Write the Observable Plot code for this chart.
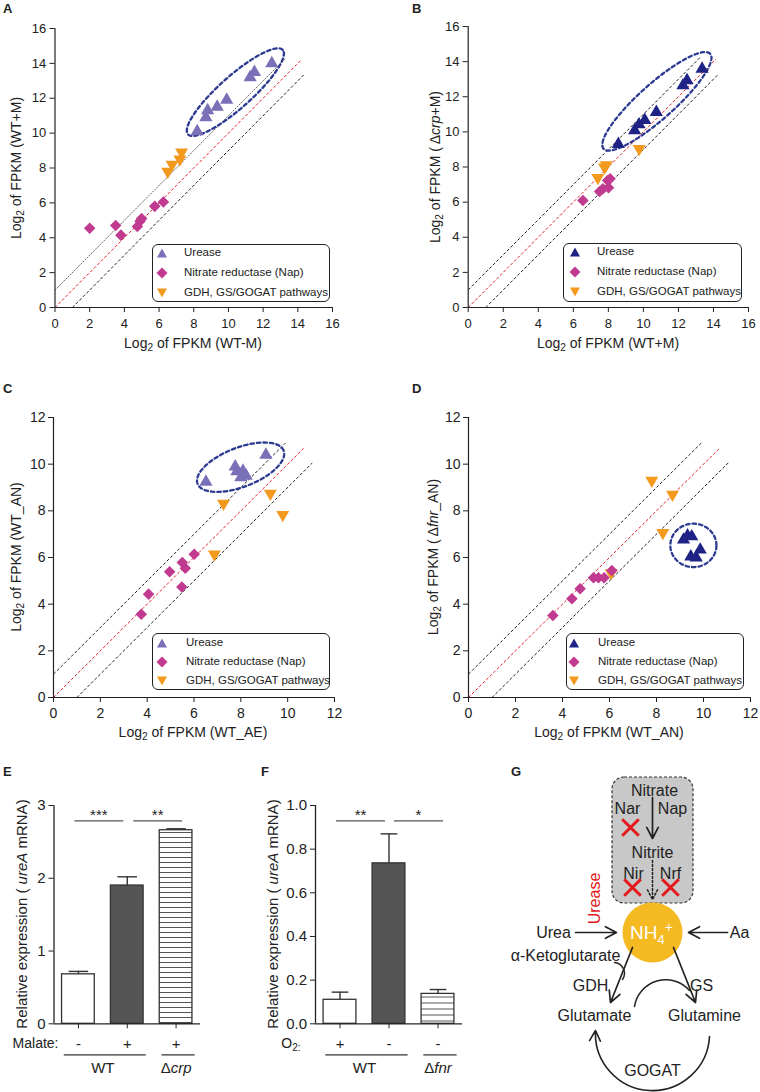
<!DOCTYPE html>
<html><head><meta charset="utf-8">
<script src="https://cdn.jsdelivr.net/npm/d3@7"></script>
<script src="https://cdn.jsdelivr.net/npm/@observablehq/plot@0.6"></script>
<style>
body{margin:0;background:#fff;}
#fig{position:relative;width:760px;height:1092px;overflow:hidden;font-family:"Liberation Sans",Arial,Helvetica,sans-serif;color:#222;background:#fff;}
.lbl{position:absolute;font-weight:bold;font-size:13px;line-height:13px;}
.t{position:absolute;white-space:nowrap;transform:translate(-50%,-50%);font-size:14px;line-height:1;}
.ty{transform:translate(-50%,-50%) rotate(-90deg);}
sub{font-size:0.72em;vertical-align:-0.28em;line-height:0;}
.leg{position:absolute;border:1px solid #222;border-radius:6px;background:#fff;font-size:11.5px;box-sizing:border-box;}
.leg .sym{position:absolute;width:12px;height:12px;}
.leg .txt{position:absolute;white-space:nowrap;transform:translateY(-50%);line-height:1;}
</style>
</head>
<body>
<svg width="0" height="0" style="position:absolute">
 <defs>
  <pattern id="stripesE" patternUnits="userSpaceOnUse" width="8" height="5"><rect width="8" height="5" fill="#fff"/><line x1="0" x2="8" y1="2.5" y2="2.5" stroke="#555" stroke-width="1"/></pattern>
  <pattern id="stripesF" patternUnits="userSpaceOnUse" width="8" height="6"><rect width="8" height="6" fill="#fff"/><line x1="0" x2="8" y1="3" y2="3" stroke="#555" stroke-width="1"/></pattern>
 </defs>
</svg>
<div id="fig"></div>
<script>
// ================= DATA =================
const abTicks = [0, 2, 4, 6, 8, 10, 12, 14, 16];
const cdTicks = [0, 2, 4, 6, 8, 10, 12];

// Panel A  [x, y]
const aUrease = [[8.2,10.1],[8.7,10.9],[8.8,11.3],[9.35,11.5],[9.9,11.9],[11.25,13.2],[11.5,13.5],[12.5,14.0]];
const aNap    = [[2.0,4.55],[3.5,4.7],[3.8,4.15],[4.75,4.65],[4.9,4.95],[5.0,5.1],[5.75,5.8],[6.25,6.05]];
const aGdh    = [[6.5,7.8],[6.75,8.2],[7.2,8.5],[7.3,8.9]];
// Panel B
const bUrease = [[8.57,9.3],[9.5,10.08],[9.75,10.42],[10.08,10.67],[10.74,11.12],[12.26,12.64],[12.49,12.93],[13.35,13.59]];
const bNap    = [[6.55,6.09],[7.5,6.6],[7.69,6.76],[8.01,6.82],[7.96,7.23],[8.1,7.33]];
const bGdh    = [[7.4,7.39],[7.78,7.99],[7.88,8.12],[9.76,9.04]];
// Panel C
const cUrease = [[6.51,9.24],[7.76,9.89],[7.83,9.69],[8.09,9.71],[8.0,9.43],[8.23,9.5],[9.07,10.4]];
const cNap    = [[3.75,3.57],[4.06,4.43],[4.96,5.39],[5.5,5.79],[5.63,5.54],[5.48,4.74],[6.01,6.14]];
const cGdh    = [[7.26,8.31],[9.26,8.74],[9.79,7.83],[6.87,6.14]];
// Panel D
const dUrease = [[9.15,6.76],[9.32,6.94],[9.5,6.9],[9.46,6.04],[9.69,5.99],[9.86,6.33]];
const dNap    = [[3.59,3.51],[4.4,4.23],[4.75,4.66],[5.32,5.13],[5.53,5.13],[5.77,5.13],[6.1,5.44]];
const dGdh    = [[7.8,9.3],[8.68,8.7],[8.27,7.06],[6.07,5.34]];

// reference lines: [offset (y = x + offset), x start, x end]
const aRefLines = [[1,0,13.3],[0,0,14.2],[-1,1,14.35]];
const bRefLines = [[1,0,13.3],[0,0,14.15],[-1,1,14.3]];
const cRefLines = [[1,0,9.9],[0,0,10.7],[-1,1,11.05]];
const dRefLines = [[1,0,9.95],[0,0,10.65],[-1,1,11.1]];

// highlight ellipses: [cx, cy, rx, ry, angle°] (data units)
const aEllipse = [10.4, 12.35, 3.65, 0.92, 41.5];
const bEllipse = [10.77, 11.74, 4.07, 1.0, 41.6];
const cEllipse = [7.99, 9.87, 1.97, 0.84, 21.2];
const dEllipse = [9.57, 6.52, 0.98, 0.93, 0];

const legendItems = ["Urease", "Nitrate reductase (Nap)", "GDH, GS/GOGAT pathways"];

// Panel E
const eSigns  = ["-", "+", "+"];
const eValues = [0.68, 1.90, 2.66];
const eErrors = [0.04, 0.12, 0.02];
const eGroups = [["WT", 0, 1], ["Δcrp", 2, 2]];
const eSig    = [["***", 0, 1], ["**", 1, 2]];
const eSigY   = 2.79;
const eTicks  = [0, 1, 2, 3];
// Panel F
const fSigns  = ["+", "-", "-"];
const fValues = [0.11, 0.735, 0.137];
const fErrors = [0.035, 0.135, 0.02];
const fGroups = [["WT", 0, 1], ["Δfnr", 2, 2]];
const fSig    = [["**", 0, 1], ["*", 1, 2]];
const fSigY   = 0.93;
const fTicks  = [0, 0.2, 0.4, 0.6, 0.8, 1.0];

// Panel G (diagram, page coordinates)
const gBox = [{x1: 612, x2: 693, y1: 777, y2: 903}];
const gLabels = [
  {t: "Nitrate", x: 654, y: 790},
  {t: "Nar", x: 627, y: 808}, {t: "Nap", x: 672, y: 808},
  {t: "Nitrite", x: 652, y: 852},
  {t: "Nir", x: 633, y: 873}, {t: "Nrf", x: 670, y: 873},
  {t: "Urea", x: 553, y: 932}, {t: "Aa", x: 739, y: 932},
  {t: "α-Ketoglutarate", x: 565, y: 955},
  {t: "GDH", x: 590, y: 985}, {t: "GS", x: 701, y: 985},
  {t: "Glutamate", x: 594, y: 1015}, {t: "Glutamine", x: 704, y: 1015},
  {t: "GOGAT", x: 652, y: 1070}
];
const gArrows = [[575,932,616,932],[727,932,688,932],[652,797,652,838],[632,947,610,1002],[673,947,695,1002]];
const gDotted = [[652,860,652,899]];
const gCrosses = [{x: 630, y: 827}, {x: 632, y: 887}, {x: 670, y: 887}];
const gNH4 = [{x: 652, y: 932}];

// ================= STYLE =================
const FONT = '"Liberation Sans", Arial, Helvetica, sans-serif';
const C_UREASE_LIGHT = "#7a70b8", C_UREASE_DARK = "#1f2385";
const C_NAP = "#c03a8f", C_GDH = "#f39a1e", C_ELL = "#2c3a92";
const fig = document.getElementById("fig");

function place(svg, left, top) {
  svg.style.position = "absolute"; svg.style.left = left + "px"; svg.style.top = top + "px";
  fig.appendChild(svg);
}
function rich(svg, map) {
  svg.querySelectorAll("text").forEach(t => {
    const spec = map[t.textContent];
    if (!spec) return;
    while (t.firstChild) t.removeChild(t.firstChild);
    for (const s of spec) {
      const ts = document.createElementNS("http://www.w3.org/2000/svg", "tspan");
      ts.textContent = s.t;
      if (s.italic) ts.setAttribute("font-style", "italic");
      if (s.dy) ts.setAttribute("dy", s.dy);
      if (s.size) ts.setAttribute("font-size", s.size);
      t.appendChild(ts);
    }
  });
}
function ellipsePoints([cx, cy, rx, ry, deg]) {
  const th = deg * Math.PI / 180, pts = [];
  for (let k = 0; k < 144; k++) {
    const t = 2 * Math.PI * k / 144;
    pts.push({x: cx + rx * Math.cos(th) * Math.cos(t) - ry * Math.sin(th) * Math.sin(t),
              y: cy + rx * Math.sin(th) * Math.cos(t) + ry * Math.cos(th) * Math.sin(t)});
  }
  return pts;
}

function scatter(o) {
  const px = {x: d => d[0], y: d => d[1]};
  const off = o.lines.filter(l => l[0] !== 0), diag = o.lines.filter(l => l[0] === 0);
  const link = {x1: l => l[1], y1: l => l[1] + l[0], x2: l => l[2], y2: l => l[2] + l[0]};
  return Plot.plot({
    width: o.w, height: o.h, marginLeft: o.ml, marginRight: o.mr, marginTop: o.mt, marginBottom: o.mb,
    style: {fontFamily: FONT, fontSize: o.fs + "px", color: "#222", background: "transparent", overflow: "visible"},
    x: {domain: [0, o.max], ticks: o.ticks, tickSize: 5, tickPadding: o.xpad, label: null},
    y: {domain: [0, o.max], ticks: o.ticks, tickSize: 5, tickPadding: o.ypad, label: null},
    marks: [
      Plot.link(off.filter(l => l[0] > 0), {...link, stroke: o.upperStroke || "#222", strokeWidth: 1, strokeDasharray: o.upperDash || "3,2"}),
      Plot.link(off.filter(l => l[0] < 0), {...link, stroke: "#222", strokeWidth: 1, strokeDasharray: "3,2"}),
      Plot.link(diag, {...link, stroke: "#e41e26", strokeWidth: 1, strokeDasharray: "3,2"}),
      Plot.line(ellipsePoints(o.ellipse), {x: "x", y: "y", curve: "linear-closed", stroke: C_ELL, strokeWidth: 2.3, strokeDasharray: "3.5,3"}),
      Plot.dot(o.gdh, {...px, symbol: "triangle", rotate: 180, r: 4.8, fill: C_GDH}),
      Plot.dot(o.nap, {...px, symbol: "square", rotate: 45, r: 4.6, fill: C_NAP}),
      Plot.dot(o.urease, {...px, symbol: "triangle", r: 4.9, fill: o.ureaseColor}),
      Plot.ruleX([0], {stroke: "#222", strokeWidth: 1.2}),
      Plot.ruleY([0], {stroke: "#222", strokeWidth: 1.2})
    ]
  });
}

function barPanel(o) {
  const bars = o.values.map((v, i) => ({i, v, e: o.errors[i], fill: o.fills[i]}));
  const zero = () => 0, top = d => d.v + d.e;
  const marks = [
    Plot.rect(bars, {x1: d => d.i - o.half, x2: d => d.i + o.half, y1: zero, y2: "v", fill: "fill", stroke: "#333", strokeWidth: 1.3}),
    Plot.ruleX(bars, {x: "i", y1: "v", y2: top, stroke: "#333", strokeWidth: 1.4}),
    Plot.link(bars, {x1: d => d.i - o.cap, x2: d => d.i + o.cap, y1: top, y2: top, stroke: "#333", strokeWidth: 1.4}),
    Plot.ruleY([0], {stroke: "#222", strokeWidth: 1.3}),
    Plot.ruleX([-0.5], {stroke: "#222", strokeWidth: 1.3}),
    Plot.link(o.groups, {x1: d => d[1] - 0.3, x2: d => d[2] + 0.38, y1: zero, y2: zero, dy: 31, stroke: "#333", strokeWidth: 1.2}),
    Plot.text(o.groups, {x: d => (d[1] + d[2]) / 2, y: zero, dy: 44, text: d => d[0], fontSize: 15}),
    Plot.text([o.cond], {x: () => -0.5, y: zero, dy: 20, dx: o.condDx, textAnchor: "end", text: d => d, fontSize: 14})
  ];
  o.sig.forEach((s, k) => {
    marks.push(Plot.link([s], {x1: d => d[1], x2: d => d[2], y1: () => o.sigY, y2: () => o.sigY, dx: o.sigDx[k], stroke: "#555", strokeWidth: 1.3}));
    marks.push(Plot.text([s], {x: d => (d[1] + d[2]) / 2, y: () => o.sigY, dx: o.sigDx[k], dy: -6, text: d => d[0], fontSize: 15}));
  });
  return Plot.plot({
    width: o.w, height: o.h, marginLeft: o.ml, marginRight: o.mr, marginTop: o.mt, marginBottom: o.mb,
    style: {fontFamily: FONT, fontSize: "15px", color: "#222", background: "transparent", overflow: "visible"},
    color: {type: "identity"},
    x: {domain: [-0.5, 2.5], ticks: [0, 1, 2], tickFormat: i => o.signs[i], tickSize: 5, tickPadding: 10, label: null},
    y: {domain: o.yDomain, ticks: o.yTicks, tickFormat: o.yFmt, tickSize: 5, tickPadding: 3.5, label: null},
    marks
  });
}

function legend(left, top, w, h, rows, symX, textX, ureaseColor) {
  const d = document.createElement("div");
  d.className = "leg";
  Object.assign(d.style, {left: left + "px", top: top + "px", width: w + "px", height: h + "px"});
  const shapes = [
    `<polygon points="6,1.5 11,10.5 1,10.5" fill="${ureaseColor}"/>`,
    `<polygon points="6,0.5 11.5,6 6,11.5 0.5,6" fill="${C_NAP}"/>`,
    `<polygon points="1,1.5 11,1.5 6,10.5" fill="${C_GDH}"/>`
  ];
  legendItems.forEach((txt, k) => {
    const s = document.createElement("div");
    s.className = "sym";
    s.style.left = (symX - 6) + "px"; s.style.top = (rows[k] - 6) + "px";
    s.innerHTML = `<svg width="12" height="12">${shapes[k]}</svg>`;
    d.appendChild(s);
    const t = document.createElement("div");
    t.className = "txt"; t.textContent = txt;
    t.style.left = textX + "px"; t.style.top = rows[k] + "px";
    d.appendChild(t);
  });
  fig.appendChild(d);
}
function label(html, x, y, rot, size) {
  const d = document.createElement("div");
  d.className = "t" + (rot ? " ty" : "");
  d.innerHTML = html;
  d.style.left = x + "px"; d.style.top = y + "px";
  if (size) d.style.fontSize = size + "px";
  fig.appendChild(d);
}
function letter(ch, x, y) {
  const d = document.createElement("div");
  d.className = "lbl"; d.textContent = ch;
  d.style.left = x + "px"; d.style.top = y + "px";
  fig.appendChild(d);
}

// ================= PANELS =================
place(scatter({w: 360, h: 360, ml: 54.5, mr: 28, mt: 28, mb: 53, fs: 13, max: 16, ticks: abTicks, xpad: 6.5, ypad: 3.8,
  urease: aUrease, nap: aNap, gdh: aGdh, ureaseColor: C_UREASE_LIGHT, lines: aRefLines, ellipse: aEllipse,
  upperStroke: "#666", upperDash: "2,1"}), 0, 0);
place(scatter({w: 380, h: 360, ml: 87.7, mr: 12, mt: 26, mb: 53, fs: 13, max: 16, ticks: abTicks, xpad: 6.5, ypad: 3.8,
  urease: bUrease, nap: bNap, gdh: bGdh, ureaseColor: C_UREASE_DARK, lines: bRefLines, ellipse: bEllipse}), 380, 0);
place(scatter({w: 360, h: 360, ml: 53, mr: 26, mt: 37, mb: 43, fs: 14, max: 12, ticks: cdTicks, xpad: 6, ypad: 3,
  urease: cUrease, nap: cNap, gdh: cGdh, ureaseColor: C_UREASE_LIGHT, lines: cRefLines, ellipse: cEllipse}), 0, 380);
place(scatter({w: 380, h: 360, ml: 88, mr: 10, mt: 37, mb: 43, fs: 14, max: 12, ticks: cdTicks, xpad: 6, ypad: 3,
  urease: dUrease, nap: dNap, gdh: dGdh, ureaseColor: C_UREASE_DARK, lines: dRefLines, ellipse: dEllipse}), 380, 380);

legend(152, 244, 178, 58, [8, 28, 48], 9, 31, C_UREASE_LIGHT);
legend(563, 243, 179, 59, [8, 28, 48], 11, 33, C_UREASE_DARK);
legend(152, 633, 178, 57, [9, 28, 47], 9, 33, C_UREASE_LIGHT);
legend(566, 633, 178, 57, [9, 28, 47], 7, 31, C_UREASE_DARK);

const L2 = "Log<sub>2</sub> of FPKM ";
label(L2 + "(WT-M)", 193, 343);
label(L2 + "(WT+M)", 16, 168, true);
label(L2 + "(WT+M)", 608, 343);
label(L2 + "(&thinsp;Δ<i>crp</i>+M)", 435, 167, true);
label(L2 + "(WT_AE)", 193, 732);
label(L2 + "(WT_AN)", 16, 557, true);
label(L2 + "(WT_AN)", 609, 732);
label(L2 + "(&thinsp;Δ<i>fnr</i>_AN)", 433, 557, true);

const eSvg = barPanel({w: 210, h: 290, ml: 53.5, mr: 10, mt: 15, mb: 56.7,
  values: eValues, errors: eErrors, fills: ["#ffffff", "#555555", "url(#stripesE)"], signs: eSigns,
  groups: eGroups, sig: eSig, sigY: eSigY, sigDx: [-4, 6], yDomain: [0, 3], yTicks: eTicks, yFmt: d => d,
  half: 0.335, cap: 0.2, cond: "Malate:", condDx: 4.5});
rich(eSvg, {"Δcrp": [{t: "Δ"}, {t: "crp", italic: true}]});
place(eSvg, 0, 790);

const fSvg = barPanel({w: 215, h: 290, ml: 55, mr: 13, mt: 15, mb: 56.7,
  values: fValues, errors: fErrors, fills: ["#ffffff", "#555555", "url(#stripesF)"], signs: fSigns,
  groups: fGroups, sig: fSig, sigY: fSigY, sigDx: [-4, 5], yDomain: [0, 1], yTicks: fTicks, yFmt: d3.format(".1f"),
  half: 0.335, cap: 0.17, cond: "O2:", condDx: -15});
rich(fSvg, {"Δfnr": [{t: "Δ"}, {t: "fnr", italic: true}], "O2:": [{t: "O"}, {t: "2:", dy: 3, size: 10}]});
place(fSvg, 260, 790);

label("Relative expression ( <i>ureA</i> mRNA)", 21, 914, true, 15);
label("Relative expression ( <i>ureA</i> mRNA)", 272, 914, true, 15);

// Panel G diagram
const seg = {x1: d => d[0], y1: d => d[1], x2: d => d[2], y2: d => d[3]};
const gSvg = Plot.plot({
  width: 260, height: 332, margin: 0,
  style: {fontFamily: FONT, fontSize: "16px", color: "#222", background: "transparent", overflow: "visible"},
  x: {domain: [500, 760], range: [0, 260], axis: null},
  y: {domain: [760, 1092], range: [0, 332], axis: null},
  marks: [
    Plot.rect(gBox, {x1: "x1", x2: "x2", y1: "y1", y2: "y2", fill: "#c8c8c8", stroke: "#333", strokeWidth: 1.2, strokeDasharray: "3,2", rx: 12}),
    Plot.dot(gNH4, {x: "x", y: "y", r: 30, fill: "#f5b921"}),
    Plot.text(gLabels, {x: "x", y: "y", text: "t", fill: "#222"}),
    Plot.arrow(gArrows, {...seg, stroke: "#222", strokeWidth: 1.7, headLength: 11, headAngle: 55}),
    Plot.arrow(gDotted, {...seg, stroke: "#222", strokeWidth: 1.5, strokeDasharray: "2,2", headLength: 11, headAngle: 55}),
    Plot.arrow([[614,962,622,979]], {...seg, stroke: "#222", strokeWidth: 1.5, bend: 60, headLength: 0}),
    Plot.arrow([[634,1006,689,990]], {...seg, stroke: "#222", strokeWidth: 1.5, bend: 65, headLength: 0}),
    Plot.arrow([[709,1036,595,1030]], {...seg, stroke: "#222", strokeWidth: 1.6, bend: 90, headLength: 11, headAngle: 55}),
    Plot.text([{t: "Urease", x: 594, y: 898}], {x: "x", y: "y", text: "t", rotate: -90, fill: "#e3191c"}),
    Plot.dot(gCrosses, {x: "x", y: "y", symbol: "times", r: 7.6, stroke: "#e3191c", strokeWidth: 3}),
    Plot.text(gNH4, {x: "x", y: "y", text: () => "NH4+", fill: "#fff", fontSize: 19, dx: -1})
  ]
});
rich(gSvg, {"NH4+": [{t: "NH"}, {t: "4", dy: 5, size: 13}, {t: "+", dy: -12, size: 14}]});
place(gSvg, 500, 760);

letter("A", 3, 2); letter("B", 412, 2);
letter("C", 3, 382); letter("D", 412, 382);
letter("E", 3, 765); letter("F", 261, 765); letter("G", 511, 765);
</script>
</body></html>
